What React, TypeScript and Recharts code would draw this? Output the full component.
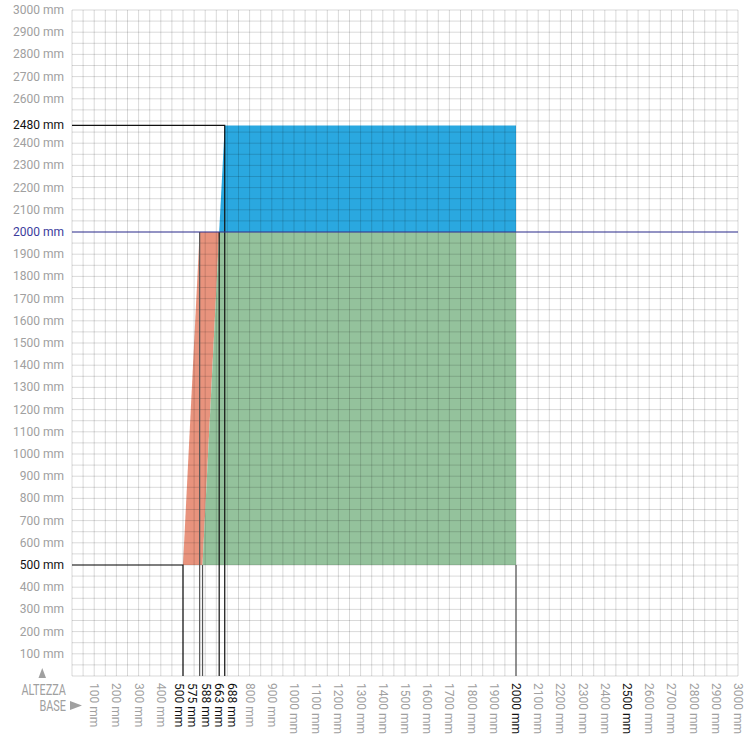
import React from 'react';
import { ComposedChart, Area, Line, XAxis, YAxis, ReferenceLine } from 'recharts';

// Tick labels
const xTicks = [100, 200, 300, 400, 500, 575, 588, 663, 688, 800, 900, 1000, 1100, 1200, 1300, 1400, 1500, 1600, 1700, 1800, 1900, 2000, 2100, 2200, 2300, 2400, 2500, 2600, 2700, 2800, 2900, 3000];
const yTicks = [100, 200, 300, 400, 500, 600, 700, 800, 900, 1000, 1100, 1200, 1300, 1400, 1500, 1600, 1700, 1800, 1900, 2000, 2100, 2200, 2300, 2400, 2480, 2600, 2700, 2800, 2900, 3000];
const xHighlighted = [500, 575, 588, 663, 688, 2000, 2500];
const yHighlighted = [500, 2480];
const yLimit = 2000;

// Filled zones: x positions with [low, high] heights
const redX = [500, 575, 588, 663];
const redLow = [500, 500, 500, 2000];
const redHigh = [500, 2000, 2000, 2000];

const greenX = [588, 663, 2000];
const greenLow = [500, 500, 500];
const greenHigh = [500, 2000, 2000];

const blueX = [663, 688, 2000];
const blueLow = [2000, 2000, 2000];
const blueHigh = [2000, 2480, 2480];

// Guide lines (x, y pairs)
const guide500X = [0, 500, 500];
const guide500Y = [500, 500, 0];
const guide2480X = [0, 688, 688];
const guide2480Y = [2480, 2480, 0];
const guide663X = [663, 663];
const guide663Y = [2000, 0];
const guide575X = [575, 575];
const guide575Y = [2000, 0];
const guide588X = [588, 588];
const guide588Y = [500, 0];
const guide2000X = [2000, 2000];
const guide2000Y = [500, 0];
const limitX = [0, 3000];
const limitY = [2000, 2000];

const gridValues = Array.from({ length: 61 }, (_, i) => i * 50);

const band = (xs: number[], lo: number[], hi: number[]) =>
  xs.map((x, i) => ({ x, v: [lo[i], hi[i]] }));
const path = (xs: number[], ys: number[]) => xs.map((x, i) => ({ x, y: ys[i] }));

const COLORS = {
  red: '#e8937d',
  green: '#94c29c',
  blue: '#2aa8e0',
  grid: '#000',
  text: '#a0a0a0',
  dark: '#111',
  guideGray: '#555',
  navy: '#3b3b9c',
};

const FONT = 'Roboto, "Liberation Sans", sans-serif';

// x labels that sit too close together get spread out
const xNudge: Record<number, number> = { 500: -4, 575: -7.5, 588: 3.5, 663: -0.5, 688: 7 };

const XTick = (props: any) => {
  const { x, y, payload } = props;
  const v = payload.value as number;
  const px = x + (xNudge[v] ?? 0);
  return (
    <text
      x={px}
      y={y}
      transform={`rotate(90, ${px}, ${y})`}
      textAnchor="start"
      dominantBaseline="central"
      fontSize={12}
      fontFamily={FONT}
      fill={xHighlighted.includes(v) ? COLORS.dark : COLORS.text}
    >
      {v} mm
    </text>
  );
};

const YTick = (props: any) => {
  const { x, y, payload } = props;
  const v = payload.value as number;
  const fill = v === yLimit ? COLORS.navy : yHighlighted.includes(v) ? COLORS.dark : COLORS.text;
  return (
    <text x={x} y={y} textAnchor="end" dominantBaseline="central" fontSize={12} fontFamily={FONT} fill={fill}>
      {v} mm
    </text>
  );
};

const guides = [
  { xs: guide500X, ys: guide500Y, color: COLORS.dark },
  { xs: guide2480X, ys: guide2480Y, color: COLORS.dark },
  { xs: guide663X, ys: guide663Y, color: COLORS.dark },
  { xs: guide575X, ys: guide575Y, color: COLORS.guideGray },
  { xs: guide588X, ys: guide588Y, color: COLORS.guideGray },
  { xs: guide2000X, ys: guide2000Y, color: COLORS.guideGray },
  { xs: limitX, ys: limitY, color: COLORS.navy },
];

export default function App() {
  return (
    <div style={{ position: 'absolute', left: 0, top: 0, width: 756, height: 738, background: '#fff' }}>
      <ComposedChart width={756} height={738} margin={{ top: 10, right: 18, left: 0, bottom: 0 }}>
        <XAxis
          type="number"
          dataKey="x"
          domain={[0, 3000]}
          ticks={xTicks}
          interval={0}
          height={62}
          axisLine={false}
          tickLine={false}
          tickSize={0}
          tickMargin={7}
          tick={<XTick />}
          allowDataOverflow
        />
        <YAxis
          type="number"
          domain={[0, 3000]}
          ticks={yTicks}
          interval={0}
          width={72}
          axisLine={false}
          tickLine={false}
          tickSize={0}
          tickMargin={8}
          tick={<YTick />}
          allowDataOverflow
        />
        <Area data={band(redX, redLow, redHigh)} dataKey="v" type="linear" fill={COLORS.red} fillOpacity={1} stroke="none" isAnimationActive={false} />
        <Area data={band(greenX, greenLow, greenHigh)} dataKey="v" type="linear" fill={COLORS.green} fillOpacity={1} stroke="none" isAnimationActive={false} />
        <Area data={band(blueX, blueLow, blueHigh)} dataKey="v" type="linear" fill={COLORS.blue} fillOpacity={1} stroke="none" isAnimationActive={false} />
        {gridValues.map((v) => (
          <ReferenceLine key={`gx${v}`} x={v} stroke={COLORS.grid} strokeOpacity={0.15} strokeWidth={1} />
        ))}
        {gridValues.map((v) => (
          <ReferenceLine key={`gy${v}`} y={v} stroke={COLORS.grid} strokeOpacity={0.15} strokeWidth={1} />
        ))}
        {guides.map((g, i) => (
          <Line
            key={`guide${i}`}
            data={path(g.xs, g.ys)}
            dataKey="y"
            type="linear"
            stroke={g.color}
            strokeWidth={1.2}
            dot={false}
            activeDot={false}
            isAnimationActive={false}
          />
        ))}
      </ComposedChart>
      <svg width={756} height={738} style={{ position: 'absolute', left: 0, top: 0, pointerEvents: 'none' }}>
        <polygon points="38.5,678 46,678 42.25,668" fill={COLORS.text} />
        <text x={0} y={0} transform="translate(66,694.5) scale(0.78,1)" textAnchor="end" fontSize={14} fontFamily={FONT} fill={COLORS.text}>
          ALTEZZA
        </text>
        <text x={0} y={0} transform="translate(66,710.5) scale(0.78,1)" textAnchor="end" fontSize={14} fontFamily={FONT} fill={COLORS.text}>
          BASE
        </text>
        <polygon points="70,701 70,710 82,705.5" fill={COLORS.text} />
      </svg>
    </div>
  );
}
